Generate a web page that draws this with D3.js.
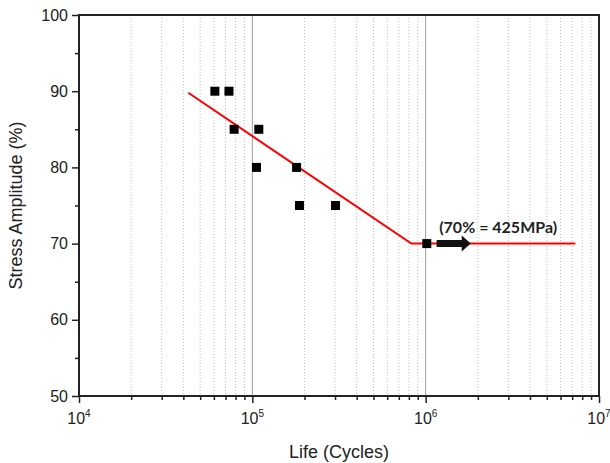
<!DOCTYPE html>
<html>
<head>
<meta charset="utf-8">
<script src="https://cdn.jsdelivr.net/npm/d3@7"></script>
<style>
  body { margin: 0; background: #fff; }
  svg { display: block; }
</style>
</head>
<body>
<div id="chart"></div>
<script>
// measured data (cycles to failure, stress amplitude %)
const lifeCycles = [60800, 73300, 78500, 109000, 105700, 180000, 187000, 302000, 1015000];
const stressPct = [90, 90, 85, 85, 80, 80, 75, 75, 70];

// fitted S-N curve (with endurance limit)
const fitLife = [42700, 827000, 7300000];
const fitStress = [89.8, 70, 70];

// runout arrow and label
const arrowLife = [1156000, 1820000];
const arrowStress = 70;
const noteText = "(70% = 425MPa)";
const noteLife = 2620000;

const yTicks = [50, 60, 70, 80, 90, 100];
const xDecades = [4, 5, 6, 7];

const width = 610, height = 463;
const margin = { top: 15, right: 11, bottom: 67, left: 79 };
const w = width - margin.left - margin.right;
const h = height - margin.top - margin.bottom;

const svg = d3.select("#chart").append("svg")
  .attr("width", width)
  .attr("height", height);

const x = d3.scaleLog().domain([1e4, 1e7]).range([0, w]);
const y = d3.scaleLinear().domain([50, 100]).range([h, 0]);

const g = svg.append("g")
  .attr("transform", `translate(${margin.left},${margin.top})`);

// vertical grid: dotted minors, solid at inner decades
const minors = [];
for (let d = 4; d < 7; d++) {
  for (let k = 2; k <= 9; k++) minors.push(k * Math.pow(10, d));
}
g.append("g").selectAll("line")
  .data(minors)
  .enter().append("line")
  .attr("x1", d => x(d)).attr("x2", d => x(d))
  .attr("y1", 0).attr("y2", h)
  .attr("stroke", "#bdbdbd")
  .attr("stroke-width", 1)
  .attr("stroke-dasharray", "1,2");

g.append("g").selectAll("line")
  .data([1e5, 1e6])
  .enter().append("line")
  .attr("x1", d => x(d)).attr("x2", d => x(d))
  .attr("y1", 0).attr("y2", h)
  .attr("stroke", "#a0a0a0")
  .attr("stroke-width", 1);

// frame
g.append("rect")
  .attr("width", w).attr("height", h)
  .attr("fill", "none")
  .attr("stroke", "#222")
  .attr("stroke-width", 2);

const tickFont = "Liberation Sans, Arial, sans-serif";

// y axis
const yAxis = g.append("g")
  .call(d3.axisLeft(y).tickValues(yTicks).tickSize(7).tickPadding(4));
yAxis.select(".domain").remove();
yAxis.selectAll("line").attr("stroke", "#222").attr("stroke-width", 1.5);
yAxis.selectAll("text")
  .attr("font-family", tickFont)
  .attr("font-size", 16)
  .attr("fill", "#222");
g.append("g")
  .call(d3.axisLeft(y).tickValues([55, 65, 75, 85, 95]).tickSize(4).tickFormat(""))
  .call(s => s.select(".domain").remove())
  .selectAll("line").attr("stroke", "#222").attr("stroke-width", 1.5);

// x axis
const xAxis = g.append("g")
  .attr("transform", `translate(0,${h})`)
  .call(d3.axisBottom(x).tickValues(xDecades.map(d => Math.pow(10, d))).tickSize(7).tickFormat(""));
xAxis.select(".domain").remove();
xAxis.selectAll("line").attr("stroke", "#222").attr("stroke-width", 1.5);
g.append("g")
  .attr("transform", `translate(0,${h})`)
  .call(d3.axisBottom(x).tickValues(minors).tickSize(4).tickFormat(""))
  .call(s => s.select(".domain").remove())
  .selectAll("line").attr("stroke", "#222").attr("stroke-width", 1.5);

const xl = g.append("g").selectAll("text")
  .data(xDecades)
  .enter().append("text")
  .attr("x", d => x(Math.pow(10, d)))
  .attr("y", h + 28)
  .attr("text-anchor", "middle")
  .attr("font-family", tickFont)
  .attr("font-size", 16)
  .attr("fill", "#222");
xl.append("tspan").text("10");
xl.append("tspan").attr("dy", -7).attr("font-size", 10).text(d => d);

// fit line
const pts = fitLife.map((d, i) => [d, fitStress[i]]);
g.append("path")
  .datum(pts)
  .attr("fill", "none")
  .attr("stroke", "#ff0000")
  .attr("stroke-width", 2)
  .attr("d", d3.line().x(d => x(d[0])).y(d => y(d[1])));

// data squares
const sz = 9;
g.append("g").selectAll("rect")
  .data(lifeCycles.map((d, i) => [d, stressPct[i]]))
  .enter().append("rect")
  .attr("x", d => x(d[0]) - sz / 2)
  .attr("y", d => y(d[1]) - sz / 2)
  .attr("width", sz).attr("height", sz)
  .attr("fill", "#000");

// runout arrow
const ax0 = x(arrowLife[0]), ax1 = x(arrowLife[1]), ay = y(arrowStress);
const headLen = 9;
g.append("path")
  .attr("d", `M${ax0},${ay - 3.5} L${ax1 - headLen},${ay - 3.5} L${ax1 - headLen},${ay - 8}
              L${ax1},${ay} L${ax1 - headLen},${ay + 8} L${ax1 - headLen},${ay + 3.5} L${ax0},${ay + 3.5} Z`)
  .attr("fill", "#111");

g.append("text")
  .attr("x", x(noteLife))
  .attr("y", ay - 11)
  .attr("text-anchor", "middle")
  .attr("font-family", "Lato, Open Sans, sans-serif")
  .attr("font-weight", "bold")
  .attr("font-size", 16)
  .attr("fill", "#222")
  .text(noteText);

// axis titles
svg.append("text")
  .attr("transform", `translate(22,${margin.top + h / 2}) rotate(-90)`)
  .attr("text-anchor", "middle")
  .attr("font-family", tickFont)
  .attr("font-size", 18)
  .attr("fill", "#222")
  .text("Stress Amplitude (%)");

svg.append("text")
  .attr("x", margin.left + w / 2)
  .attr("y", 458)
  .attr("text-anchor", "middle")
  .attr("font-family", tickFont)
  .attr("font-size", 18)
  .attr("fill", "#222")
  .text("Life (Cycles)");
</script>
</body>
</html>
